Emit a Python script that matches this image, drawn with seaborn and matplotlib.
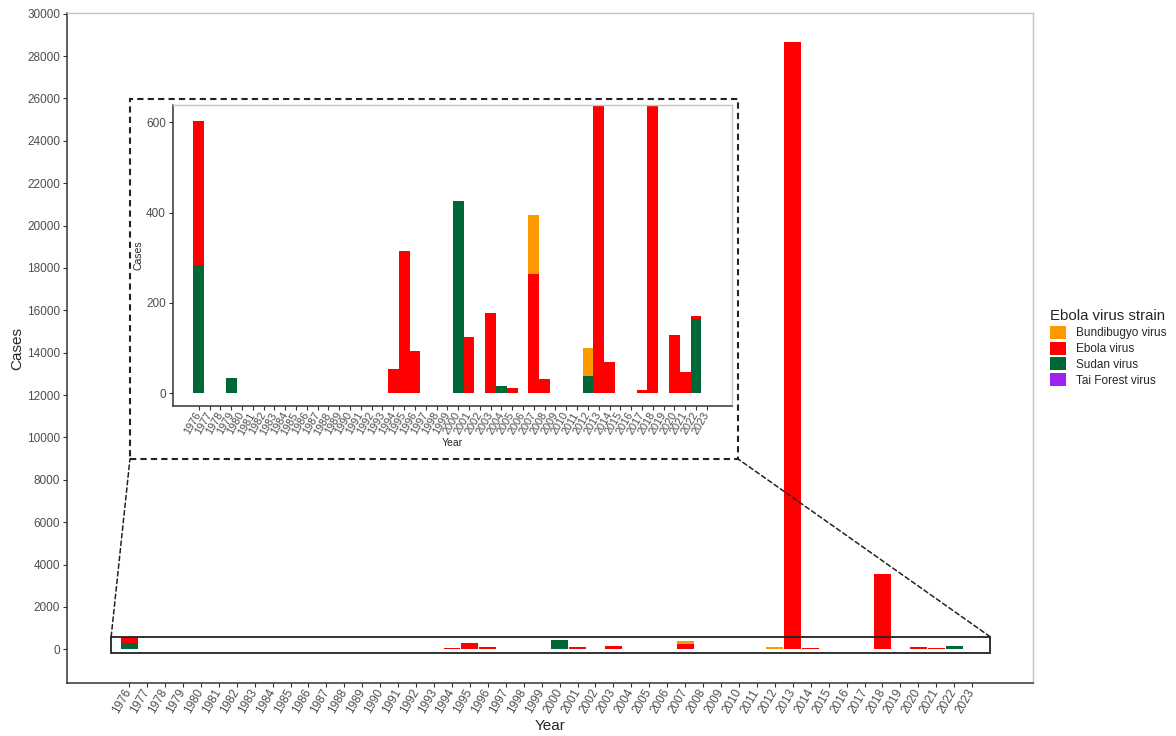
import matplotlib
matplotlib.use("Agg")
import numpy as np
import pandas as pd
import matplotlib.pyplot as plt
import seaborn as sns
from matplotlib.patches import Rectangle, ConnectionPatch

# data
years = list(range(1976, 2024))
strains = ["Bundibugyo virus", "Ebola virus", "Sudan virus", "Tai Forest virus"]
colors = ["#FF9900", "#FF0000", "#006837", "#A020F0"]

ebola_years = [1976, 1977, 1994, 1995, 1996, 2001, 2003, 2005, 2007, 2008,
               2013, 2014, 2017, 2018, 2020, 2021, 2022]
ebola_cases = [318, 1, 52, 315, 94, 124, 178, 12, 264, 32,
               28646, 69, 8, 3540, 130, 48, 7]
sudan_years = [1976, 1979, 2000, 2004, 2011, 2012, 2022]
sudan_cases = [284, 34, 425, 17, 1, 38, 164]
bundibugyo_years = [2007, 2012]
bundibugyo_cases = [131, 62]
tai_years = [1994]
tai_cases = [1]

frames = []
for name, yrs, cs in [("Bundibugyo virus", bundibugyo_years, bundibugyo_cases),
                      ("Ebola virus", ebola_years, ebola_cases),
                      ("Sudan virus", sudan_years, sudan_cases),
                      ("Tai Forest virus", tai_years, tai_cases)]:
    frames.append(pd.DataFrame({"Year": yrs, "Cases": cs, "Strain": name}))
df = pd.concat(frames, ignore_index=True)

sns.set_style("white")
plt.rcParams["font.family"] = ["Liberation Sans", "DejaVu Sans"]

grey_txt = "#4d4d4d"
dark = "#333333"


def draw_bars(ax, shrink, legend):
    sns.histplot(data=df, x="Year", weights="Cases", hue="Strain",
                 hue_order=strains, palette=dict(zip(strains, colors)),
                 multiple="stack", discrete=True, shrink=shrink,
                 linewidth=0, alpha=1, ax=ax, legend=legend)


def style_axes(ax, lw=1.1):
    for s in ["left", "bottom"]:
        ax.spines[s].set_color(dark)
        ax.spines[s].set_linewidth(lw)
    for s in ["top", "right"]:
        ax.spines[s].set_color("#c4c4c4")
        ax.spines[s].set_linewidth(1.0)


fig = plt.figure(figsize=(11.76, 7.36), dpi=100)
fig.patch.set_facecolor("white")

# main panel
ax = fig.add_axes([0.057, 0.072, 0.8214, 0.9103])
draw_bars(ax, 0.94, True)
ax.set_xlim(1972.54, 2026.39)
ax.set_ylim(-1590, 30030)
ax.set_yticks(range(0, 30001, 2000))
ax.set_xticks(years)
ax.set_xticklabels([str(y) for y in years], rotation=60, ha="right",
                   va="center", rotation_mode="anchor", fontsize=8.5, color=grey_txt)
ax.tick_params(axis="y", labelsize=8.5, labelcolor=grey_txt)
ax.tick_params(axis="both", length=3, width=0.8, color=dark, pad=2,
               bottom=True, left=True)
ax.set_ylabel("Cases", fontsize=11, labelpad=2)
ax.set_xlabel("Year", fontsize=11, labelpad=2)
style_axes(ax)

sns.move_legend(ax, "center left", bbox_to_anchor=(1.007, 0.5),
                title="Ebola virus strain", frameon=False, fontsize=8.5,
                title_fontsize=10.8, handlelength=1.33, handleheight=1.33,
                labelspacing=0.2, handletextpad=0.8)
ax.get_legend()._legend_box.align = "left"

# zoom rectangle on main panel
ax.add_patch(Rectangle((1975, -190), 49, 785, fill=False, ec="#222222",
                       lw=1.3, zorder=4))

# inset panel
axin = fig.add_axes([0.1469, 0.4484, 0.4753, 0.4089])
draw_bars(axin, 1.0, False)
axin.set_xlim(1973.6, 2025.3)
axin.set_ylim(-28, 638)
axin.set_yticks([0, 200, 400, 600])
axin.set_xticks(years)
axin.set_xticklabels([str(y) for y in years], rotation=60, ha="right",
                     va="center", rotation_mode="anchor", fontsize=7.8, color=grey_txt)
axin.tick_params(axis="y", labelsize=8.5, labelcolor=grey_txt)
axin.tick_params(axis="both", length=3, width=0.8, color=dark, pad=2,
                 bottom=True, left=True)
axin.set_ylabel("Cases", fontsize=7.5, labelpad=2)
axin.set_xlabel("Year", fontsize=7.5, labelpad=1)
style_axes(axin)

# dashed frame around the inset and the connector lines
box_x0, box_y0, box_x1, box_y1 = 0.1105, 0.3764, 0.6276, 0.8655
fig.add_artist(Rectangle((box_x0, box_y0), box_x1 - box_x0, box_y1 - box_y0,
                         transform=fig.transFigure, fill=False, ec="#222222",
                         lw=1.5, ls=(0, (3, 2))))
for xa, xb in [(1975, box_x0), (2024, box_x1)]:
    con = ConnectionPatch(xyA=(xa, 595), coordsA="data", axesA=ax,
                          xyB=(xb, box_y0), coordsB="figure fraction",
                          ls=(0, (3, 2)), lw=1.1, color="#222222")
    fig.add_artist(con)

fig.savefig("out.png", dpi=100, facecolor="white")
